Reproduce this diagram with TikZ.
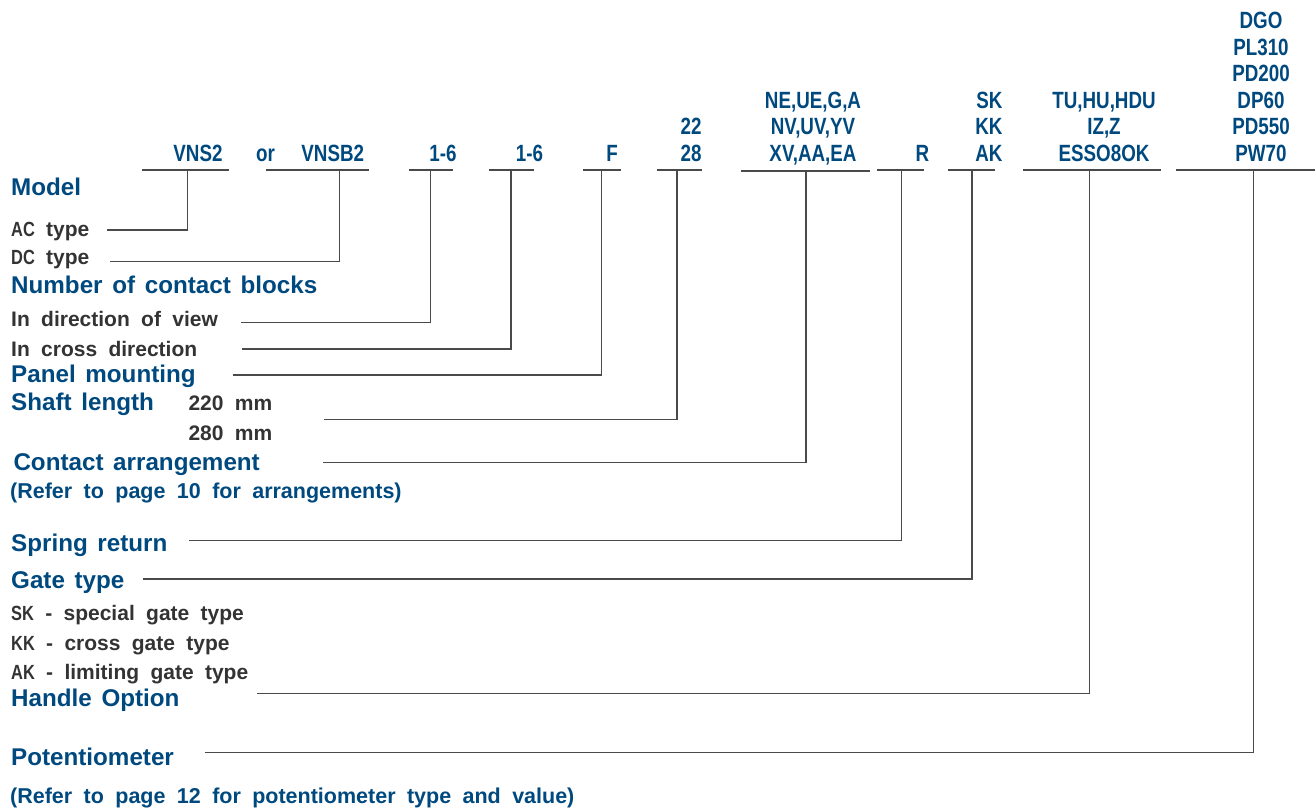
\documentclass[tikz,border=0pt]{standalone}
\usepackage{fontspec}
\setmainfont{Liberation Sans}
\newfontfamily\lsans{Liberation Sans}
\newfontfamily\narrowf[FakeStretch=0.80]{Liberation Sans}
\newcommand\abbrf{\narrowf\bfseries\fontsize{20.5}{24}\selectfont}
\newcommand\headf{\lsans\bfseries\fontsize{24.2}{28}\selectfont\spaceskip=0.4em\relax}
\newcommand\notef{\lsans\bfseries\fontsize{21.5}{24}\selectfont\spaceskip=0.53em\relax}
\newcommand\descf{\lsans\bfseries\fontsize{21}{24}\selectfont\spaceskip=0.54em\relax}
\definecolor{blueC}{HTML}{00497F}
\definecolor{grayT}{HTML}{333333}
\definecolor{lineC}{HTML}{4A4A4A}
\begin{document}
\begin{tikzpicture}[x=1pt,y=-1pt,
  code/.style={font=\narrowf\bfseries\fontsize{23.5}{26}\selectfont, text=blueC, inner sep=0pt},
  head/.style={font=\headf, text=blueC, inner sep=0pt, anchor=base west},
  note/.style={font=\notef, text=blueC, inner sep=0pt, anchor=base west},
  desc/.style={font=\descf, text=grayT, inner sep=0pt, anchor=base west},
  lead/.style={draw=lineC, line width=1.5pt}]
\useasboundingbox (0,0) rectangle (1315,809);

% ---------- header codes ----------
\node[code, anchor=base east] (cVNS) at (222.7,161) {VNS2};
\node[code, anchor=base west] (cor) at (256,161) {or};
\node[code, anchor=base east] (cVNSB) at (364.3,161) {VNSB2};
\node[code, anchor=base east] (cA) at (456.7,161) {1-6};
\node[code, anchor=base east] (cB) at (543.3,161) {1-6};
\node[code, anchor=base east] (cF) at (618,161) {F};
\node[code, anchor=base east] (c22) at (701.7,134.5) {22};
\node[code, anchor=base east] (c28) at (701.7,161) {28};
\node[code, anchor=base] (cNE) at (813,108) {NE,UE,G,A};
\node[code, anchor=base] (cNV) at (813,134.5) {NV,UV,YV};
\node[code, anchor=base] (cXV) at (813,161) {XV,AA,EA};
\node[code, anchor=base east] (cR) at (929.3,161) {R};
\node[code, anchor=base east] (cSK) at (1002.7,108) {SK};
\node[code, anchor=base east] (cKK) at (1002.7,134.5) {KK};
\node[code, anchor=base east] (cAK) at (1002.7,161) {AK};
\node[code, anchor=base] (cTU) at (1104,108) {TU,HU,HDU};
\node[code, anchor=base] (cIZ) at (1104,134.5) {IZ,Z};
\node[code, anchor=base] (cES) at (1104,161) {ESSO8OK};
\node[code, anchor=base] (cDGO) at (1261,28.5) {DGO};
\node[code, anchor=base] (cPL) at (1261,55) {PL310};
\node[code, anchor=base] (cPD2) at (1261,81.5) {PD200};
\node[code, anchor=base] (cDP) at (1261,108) {DP60};
\node[code, anchor=base] (cPD5) at (1261,134.5) {PD550};
\node[code, anchor=base] (cPW) at (1261,161) {PW70};

% ---------- underlines ----------
\coordinate (u1a) at (142,170);   \coordinate (u1b) at (229,170);   \coordinate (u1m) at (187.3,170);
\coordinate (u2a) at (266,170);   \coordinate (u2b) at (369,170);   \coordinate (u2m) at (339.3,170);
\coordinate (u3a) at (409,170);   \coordinate (u3b) at (453,170);   \coordinate (u3m) at (430.7,170);
\coordinate (u4a) at (489,170);   \coordinate (u4b) at (534,170);   \coordinate (u4m) at (511,170);
\coordinate (u5a) at (583.3,170); \coordinate (u5b) at (621,170);   \coordinate (u5m) at (601.7,170);
\coordinate (u6a) at (656.7,170); \coordinate (u6b) at (702.3,170); \coordinate (u6m) at (677,170);
\coordinate (u7a) at (741.3,171); \coordinate (u7b) at (870.3,171); \coordinate (u7m) at (806,171);
\coordinate (u8a) at (877.3,170); \coordinate (u8b) at (924.3,170); \coordinate (u8m) at (901.7,170);
\coordinate (u9a) at (948.3,170); \coordinate (u9b) at (995,170);   \coordinate (u9m) at (972,170);
\coordinate (uAa) at (1023.3,170);\coordinate (uAb) at (1161,170);  \coordinate (uAm) at (1089.3,170);
\coordinate (uBa) at (1176,170);  \coordinate (uBb) at (1315,170);  \coordinate (uBm) at (1253.7,170);
\foreach \u in {u1,u2,u3,u4,u5,u6,u7,u8,u9,uA,uB}
  \draw[lead] (\u a) -- (\u b);

% ---------- left labels ----------
\node[head] (lModel) at (11,195) {Model};
\node[desc] (lAC) at (11,236) {{\abbrf AC} type};
\node[desc] (lDC) at (11,264.3) {{\abbrf DC} type};
\node[head] (lNum) at (11,293) {Number of contact blocks};
\node[desc] (lView) at (11,326.7) {In direction of view};
\node[desc] (lCross) at (11,356.7) {In cross direction};
\node[head] (lPanel) at (11,382.3) {Panel mounting};
\node[head] (lShaft) at (11,410) {Shaft length};
\node[desc] (l220) at (188.3,410.7) {220 mm};
\node[desc] (l280) at (188.3,440) {280 mm};
\node[head] (lContact) at (13.3,470.7) {Contact arrangement};
\node[note] (lRef10) at (10,498.3) {(Refer to page 10 for arrangements)};
\node[head] (lSpring) at (11,551.7) {Spring return};
\node[head] (lGate) at (11,588.3) {Gate type};
\node[desc] (lSK) at (11,620) {{\abbrf SK} - special gate type};
\node[desc] (lKK) at (11,650) {{\abbrf KK} - cross gate type};
\node[desc] (lAK) at (11,679.3) {{\abbrf AK} - limiting gate type};
\node[head] (lHandle) at (11,706.7) {Handle Option};
\node[head] (lPot) at (11,765) {Potentiometer};
\node[note] (lRef12) at (10,803) {(Refer to page 12 for potentiometer type and value)};

% ---------- leader starts ----------
\coordinate (sAC) at (107.3,230);
\coordinate (sDC) at (110,261.7);
\coordinate (sView) at (241,322.7);
\coordinate (sCross) at (242.3,349);
\coordinate (sPanel) at (232.7,375);
\coordinate (sShaft) at (324,419.3);
\coordinate (sContact) at (323.3,462.7);
\coordinate (sSpring) at (189,540.7);
\coordinate (sGate) at (142.7,579);
\coordinate (sHandle) at (257.3,693.3);
\coordinate (sPot) at (205,752.3);

% ---------- connectors ----------
\draw[lead] (sAC) -| (u1m);
\draw[lead] (sDC) -| (u2m);
\draw[lead] (sView) -| (u3m);
\draw[lead] (sCross) -| (u4m);
\draw[lead] (sPanel) -| (u5m);
\draw[lead] (sShaft) -| (u6m);
\draw[lead] (sContact) -| (u7m);
\draw[lead] (sSpring) -| (u8m);
\draw[lead] (sGate) -| (u9m);
\draw[lead] (sHandle) -| (uAm);
\draw[lead] (sPot) -| (uBm);
\end{tikzpicture}
\end{document}
